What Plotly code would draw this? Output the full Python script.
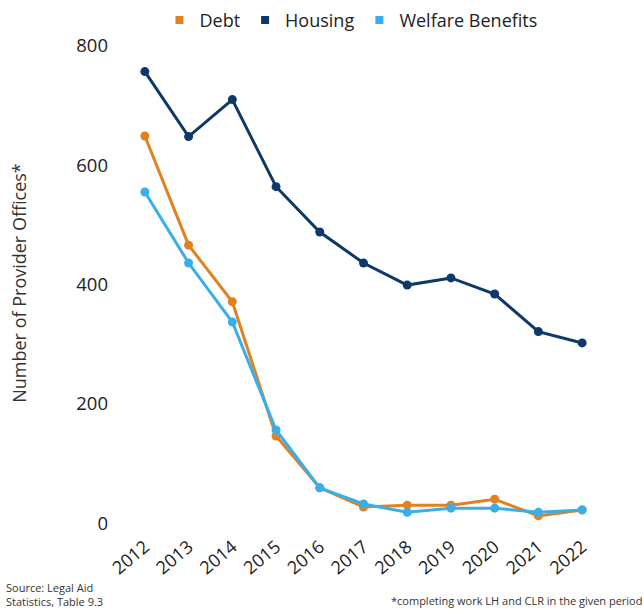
import plotly.graph_objects as go

years = [2012, 2013, 2014, 2015, 2016, 2017, 2018, 2019, 2020, 2021, 2022]
debt = [649, 466, 371, 146, 59, 27, 30, 30, 40, 12, 22]
housing = [757, 648, 710, 564, 488, 436, 399, 411, 384, 321, 302]
welfare = [555, 436, 337, 156, 59, 32, 18, 25, 25, 18, 22]
y_ticks = [0, 200, 400, 600, 800]

series = [("Debt", debt, "#E3801F"), ("Housing", housing, "#0D3868"), ("Welfare Benefits", welfare, "#38AEEA")]

FONT = "Open Sans"
fig = go.Figure()
for name, vals, col in series:
    fig.add_trace(go.Scatter(x=years, y=vals, mode="lines+markers", name=name,
                             line=dict(color=col, width=3), marker=dict(color=col, size=9),
                             showlegend=False))
for name, vals, col in series:
    fig.add_trace(go.Scatter(x=[None], y=[None], mode="markers", name=name,
                             marker=dict(color=col, size=8, symbol="square")))

fig.update_layout(
    width=644, height=613,
    margin=dict(l=123, r=40, t=34, b=81, autoexpand=False),
    paper_bgcolor="white", plot_bgcolor="white",
    font=dict(family=FONT, color="#222222"),
    legend=dict(orientation="h", xref="container", yref="container", x=0.545, y=0.967,
                xanchor="center", yanchor="middle", font=dict(size=18, color="#222222"),
                itemwidth=30, tracegroupgap=0),
    xaxis=dict(range=[2011.5, 2022.5], tickmode="array", tickvals=years,
               ticktext=[str(y) for y in years], tickangle=-40, showgrid=False,
               zeroline=False, showline=False, tickfont=dict(size=18, color="#222222")),
    yaxis=dict(range=[-15, 820], tickmode="array", tickvals=y_ticks, showgrid=False,
               zeroline=False, showline=False, tickfont=dict(size=18.5, color="#222222"),
               ticklabelstandoff=14,
               title=dict(text="Number of Provider Offices*", font=dict(size=18, color="#333333"),
                          standoff=44)),
)
fig.add_annotation(text="Source: Legal Aid<br>Statistics, Table 9.3", xref="paper", yref="paper",
                   x=0, y=0, xanchor="left", yanchor="bottom", showarrow=False, align="left",
                   font=dict(size=11, color="#333333"),
                   xshift=-123 + 4, yshift=-81 + 2)
fig.add_annotation(text="*completing work LH and CLR in the given period", xref="paper", yref="paper",
                   x=1, y=0, xanchor="right", yanchor="bottom", showarrow=False,
                   font=dict(size=11, color="#333333"), xshift=40, yshift=-81 + 3)

fig.write_html("out.html")
